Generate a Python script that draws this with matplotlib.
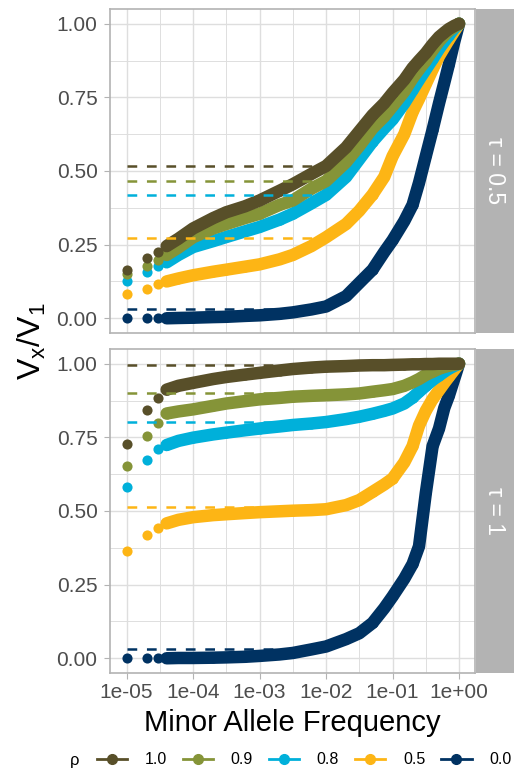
import matplotlib

matplotlib.use("Agg")
import matplotlib.pyplot as plt
from matplotlib.lines import Line2D

plt.rcParams["font.family"] = ["Liberation Sans", "DejaVu Sans"]
plt.rcParams["lines.scale_dashes"] = False

maf = [1e-5, 2e-5, 3e-5, 4e-5, 6e-5, 1e-4, 2e-4, 3.16e-4, 6e-4, 1e-3,
       2e-3, 3.16e-3, 6e-3, 1e-2, 2e-2, 3.16e-2, 0.05, 0.075, 0.1, 0.15,
       0.2, 0.25, 0.316, 0.4, 0.5, 0.6, 0.7, 0.85, 1.0]

rho_labels = ["1.0", "0.9", "0.8", "0.5", "0.0"]
colors = ["#584F29", "#859438", "#00B0DA", "#FDB515", "#003262"]

# tau = 0.5
top_10 = [0.164, 0.203, 0.226, 0.245, 0.27, 0.305, 0.34, 0.36, 0.38, 0.40,
          0.433, 0.455, 0.49, 0.517, 0.58, 0.635, 0.69, 0.73, 0.765, 0.81,
          0.85, 0.875, 0.90, 0.93, 0.955, 0.97, 0.982, 0.993, 1.0]
top_09 = [0.149, 0.178, 0.198, 0.215, 0.24, 0.275, 0.305, 0.32, 0.34, 0.355,
          0.385, 0.40, 0.44, 0.466, 0.53, 0.585, 0.645, 0.685, 0.72, 0.77,
          0.815, 0.845, 0.875, 0.91, 0.94, 0.96, 0.975, 0.99, 1.0]
top_08 = [0.127, 0.157, 0.178, 0.19, 0.215, 0.242, 0.262, 0.276, 0.295, 0.31,
          0.335, 0.355, 0.39, 0.419, 0.48, 0.54, 0.60, 0.645, 0.675, 0.73,
          0.775, 0.81, 0.845, 0.88, 0.915, 0.94, 0.96, 0.985, 1.0]
top_05 = [0.082, 0.099, 0.116, 0.125, 0.135, 0.146, 0.158, 0.165, 0.175, 0.183,
          0.20, 0.215, 0.245, 0.275, 0.32, 0.365, 0.42, 0.48, 0.55, 0.625,
          0.70, 0.745, 0.795, 0.845, 0.89, 0.92, 0.945, 0.975, 1.0]
top_00 = [0.0, 0.0, 0.0, 0.0, 0.001, 0.002, 0.004, 0.005, 0.008, 0.01,
          0.015, 0.02, 0.03, 0.04, 0.075, 0.12, 0.165, 0.225, 0.265, 0.33,
          0.385, 0.46, 0.55, 0.64, 0.73, 0.80, 0.86, 0.94, 1.0]
top_ref = [0.517, 0.466, 0.419, 0.273, 0.030]

# tau = 1
bot_10 = [0.727, 0.842, 0.885, 0.912, 0.925, 0.935, 0.948, 0.955, 0.963, 0.969,
          0.977, 0.982, 0.987, 0.99, 0.992, 0.994, 0.995, 0.995, 0.996, 0.997,
          0.998, 0.998, 0.999, 0.999, 1.0, 1.0, 1.0, 1.0, 1.0]
bot_09 = [0.653, 0.755, 0.799, 0.831, 0.838, 0.845, 0.857, 0.865, 0.873, 0.879,
          0.884, 0.888, 0.891, 0.893, 0.896, 0.899, 0.905, 0.91, 0.914, 0.925,
          0.937, 0.948, 0.962, 0.973, 0.983, 0.989, 0.993, 0.997, 1.0]
bot_08 = [0.581, 0.673, 0.71, 0.724, 0.738, 0.749, 0.76, 0.766, 0.774, 0.78,
          0.787, 0.792, 0.797, 0.802, 0.812, 0.82, 0.83, 0.84, 0.848, 0.865,
          0.885, 0.905, 0.925, 0.945, 0.96, 0.973, 0.983, 0.993, 1.0]
bot_05 = [0.364, 0.42, 0.443, 0.458, 0.47, 0.479, 0.486, 0.489, 0.493, 0.496,
          0.499, 0.501, 0.503, 0.506, 0.52, 0.537, 0.565, 0.59, 0.61, 0.665,
          0.72, 0.79, 0.84, 0.88, 0.91, 0.935, 0.955, 0.98, 1.0]
bot_00 = [0.0, 0.0, 0.0, 0.0, 0.001, 0.001, 0.002, 0.003, 0.005, 0.008,
          0.013, 0.018, 0.03, 0.04, 0.065, 0.085, 0.12, 0.17, 0.21, 0.27,
          0.32, 0.38, 0.56, 0.72, 0.78, 0.85, 0.89, 0.95, 1.0]
bot_ref = [0.994, 0.899, 0.802, 0.512, 0.031]

panels = [("\u03c4 = 0.5", [top_10, top_09, top_08, top_05, top_00], top_ref),
          ("\u03c4 = 1", [bot_10, bot_09, bot_08, bot_05, bot_00], bot_ref)]

W, H = 514, 779
fig = plt.figure(figsize=(W / 100, H / 100), dpi=100)

grid = "#DEDEDE"
border = "#B3B3B3"
ticktxt = "#4D4D4D"

panel_rects = [(110, 9, 475, 333), (110, 349, 475, 673)]
for (title, series, refs), (x0, y0, x1, y1) in zip(panels, panel_rects):
    ax = fig.add_axes([x0 / W, 1 - y1 / H, (x1 - x0) / W, (y1 - y0) / H])
    ax.set_xscale("log")
    ax.set_xticks([1e-5, 1e-4, 1e-3, 1e-2, 1e-1, 1])
    ax.set_xticks([10 ** (e + 0.5) for e in range(-5, 0)], minor=True)
    ax.set_yticks([0, 0.25, 0.5, 0.75, 1.0])
    ax.set_yticks([0.125, 0.375, 0.625, 0.875], minor=True)
    # limits after ticks, ggplot-style 5% padding
    ax.set_xlim(10 ** -5.25, 10 ** 0.24)
    ax.set_ylim(-0.05, 1.05)
    ax.grid(True, which="major", color=grid, lw=1.0, zorder=0)
    ax.grid(True, which="minor", color=grid, lw=0.7, zorder=0)
    ax.set_axisbelow(True)
    for sp in ax.spines.values():
        sp.set_color(border)
        sp.set_linewidth(1.2)
    ax.tick_params(which="major", length=4, width=0.8, color=border,
                   labelsize=15, labelcolor=ticktxt, pad=5)
    ax.tick_params(axis="x", which="major", pad=3)
    ax.tick_params(which="minor", length=0)
    ax.set_yticklabels(["0.00", "0.25", "0.50", "0.75", "1.00"])
    if y1 == 673:
        ax.set_xticklabels(["1e-05", "1e-04", "1e-03", "1e-02", "1e-01", "1e+00"])
    else:
        ax.tick_params(axis="x", which="both", bottom=False, labelbottom=False)

    # draw rho = 0.0 first, rho = 1.0 last (on top)
    for vals, col in reversed(list(zip(series, colors))):
        ax.plot(maf[3:], vals[3:], color=col, lw=9, solid_capstyle="round",
                solid_joinstyle="round", zorder=3)
        ax.plot(maf, vals, "o", color=col, ms=7.3, mew=0, zorder=3)
    for r, col in reversed(list(zip(refs, colors))):
        ax.plot([1e-5, 1e-2], [r, r], color=col, lw=1.8, dashes=(7, 7),
                zorder=4)

    # facet strip
    sax = fig.add_axes([476 / W, 1 - y1 / H, (W - 476) / W, (y1 - y0) / H])
    sax.set_facecolor("#B3B3B3")
    sax.set_xticks([])
    sax.set_yticks([])
    for sp in sax.spines.values():
        sp.set_visible(False)
    sax.text(0.5, 0.5, title, rotation=270, ha="center", va="center",
             color="white", fontsize=16.5, transform=sax.transAxes)

fig.text(32 / W, 1 - 341 / H, r"$\mathregular{V_x/V_1}$", rotation=90,
         ha="center", va="center", fontsize=23)
fig.text(292 / W, 1 - 723 / H, "Minor Allele Frequency", ha="center",
         va="center", fontsize=21)

handles = [Line2D([], [], color=c, lw=2, marker="o", ms=7) for c in colors]
fig.text(75 / W, 1 - 760 / H, "\u03c1", ha="center", va="center",
         fontsize=12, color="black")
fig.legend(handles, rho_labels, loc="center", ncol=5,
           bbox_to_anchor=(304 / W, 1 - 760 / H), frameon=False,
           fontsize=11.5, handlelength=1.9, handletextpad=1.1,
           columnspacing=1.0, borderpad=0, borderaxespad=0)

fig.savefig("out.png", dpi=100)
